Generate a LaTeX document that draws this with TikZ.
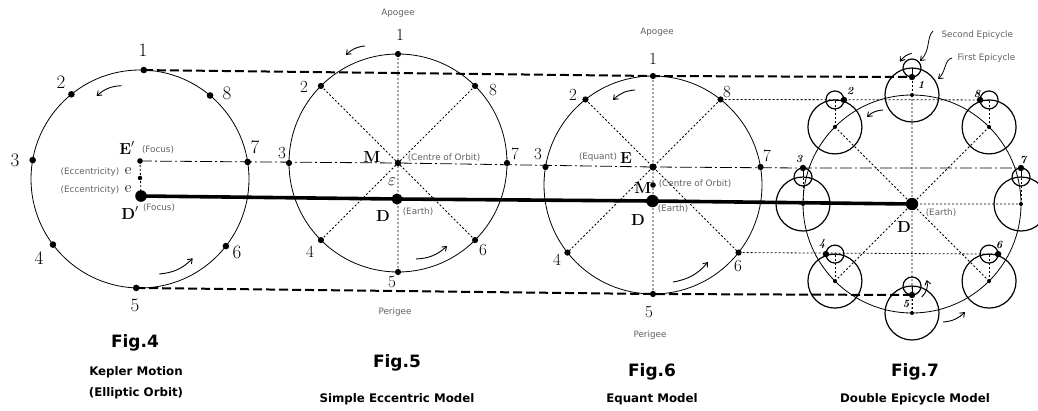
\documentclass[tikz,border=0pt]{standalone}
\usepackage{fontspec}
\newfontfamily\capfont{DejaVu Sans}
\usetikzlibrary{arrows.meta}

\begin{document}
\begin{tikzpicture}[x=1pt, y=1pt,
    orbit/.style={line width=0.8pt},
    epi/.style={line width=1.2pt},
    guide/.style={line width=2pt, dash pattern=on 9pt off 4pt},
    axisline/.style={line width=3.6pt},
    dashdotline/.style={line width=0.8pt, dash pattern=on 12pt off 3pt on 2pt off 3pt},
    ray/.style={line width=0.8pt, dash pattern=on 2pt off 2pt},
    num/.style={font=\fontsize{17}{17}\selectfont},
    bignum/.style={font=\fontsize{19}{19}\selectfont},
    smallnum/.style={font=\fontsize{11}{11}\selectfont\bfseries\itshape},
    letter/.style={font=\fontsize{16}{16}\selectfont\bfseries},
    note/.style={font=\capfont\fontsize{8.8}{8.8}\selectfont, text=black!62},
    figno/.style={font=\capfont\bfseries\fontsize{17}{17}\selectfont},
    subcap/.style={font=\capfont\bfseries\fontsize{11.8}{11.8}\selectfont},
    motion/.style={-{Straight Barb[length=4pt,width=6pt]}, line width=0.9pt},
]
\useasboundingbox (0,0) rectangle (1038,-410);
\clip (0,0) rectangle (1038,-410);

% Fig.4 points (Kepler)
\coordinate (C4) at (140,-179);
\foreach \k/\a in {1/88,2/129,3/170,4/217,5/268,6/322,7/9,8/50}
    \coordinate (f4p\k) at ([shift={(\a:109)}]C4);
\coordinate (f4E) at (140,-161);
\coordinate (f4e) at (140,-178);
\coordinate (f4D) at (141,-196);

% Fig.5 points (simple eccentric)
\coordinate (M5) at (398,-163);
\coordinate (D5) at (397,-199);
\foreach \k in {1,...,8}
    \coordinate (f5p\k) at ([shift={({45*\k+45}:109)}]M5);

% Fig.6 points (equant), rays drawn from E
\coordinate (M6) at (653,-185);
\coordinate (E6) at (653,-167);
\coordinate (D6) at (652.5,-201);
\foreach \k/\a/\s in {1/90/91,2/135/95.5,3/180/107.5,4/225/121,5/270/127,6/315/121,7/0/107.5,8/45/95.5}
    \coordinate (f6p\k) at ([shift={(\a:\s)}]E6);

% Fig.7 points (double epicycle)
\coordinate (D7) at (912,-204);
\foreach \k in {1,...,8} {
    \coordinate (f7c\k) at ([shift={({45*\k+45}:109)}]D7);
    \coordinate (f7s\k) at ([shift={(0,27)}]f7c\k);
    \coordinate (f7q\k) at ([shift={({90*\k+180}:9)}]f7s\k);
}

% Orbits
\draw[orbit] (C4) circle (109);
\draw[orbit] (M5) circle (109);
\draw[orbit] (M6) circle (109);
\draw[orbit] (D7) circle (109);

% Epicycles
\foreach \k in {1,...,8} {
    \draw[epi] (f7c\k) circle (27);
    \draw[epi] (f7s\k) circle (9);
    \draw[ray] (f7c\k) -- (f7s\k);
    \draw[orbit] (f7s\k) -- (f7q\k);
}

% Dotted rays
\draw[ray] (f4E) -- (f4D);
\draw[ray] (f5p1) -- (f5p5) (f5p2) -- (f5p6) (f5p8) -- (f5p4);
\draw[ray] (f6p1) -- (f6p5) (f6p2) -- (f6p6) (f6p8) -- (f6p4);
\draw[ray] (f7c1) -- (f7c5) (f7c2) -- (f7c6) (f7c8) -- (f7c4) (D7) -- (f7c7);
\draw[ray] (f6p8) -- (f7q8);
\draw[ray] (f6p6) -- (f7q6);

% Connecting lines
\draw[guide] (f4p1) -- (f6p1) -- (f7q1);
\draw[guide] (f4p5) -- (f6p5) -- (f7q5);
\draw[dashdotline] (f4E) -- (M5) -- (E6) -- (f7q3) -- (f7q7);
\draw[axisline] (f4D) -- (D5) -- (D6) -- (D7);

% Dots
\foreach \k in {1,...,8} {
    \fill (f4p\k) circle (3.3);
    \fill (f5p\k) circle (3.1);
    \fill (f6p\k) circle (3.1);
    \fill (f7q\k) circle (3.2);
    \fill (f7c\k) circle (2);
}
\fill (f4E) circle (2.8);
\fill (f4e) circle (2.2);
\fill (f4D) circle (5.8);
\fill (M5) circle (3.2);
\fill (D5) circle (5.5);
\fill (E6) circle (3.6);
\fill (M6) circle (2.8);
\fill (D6) circle (6.2);
\fill (D7) circle (6.2);

% Fig.4 labels
\node[bignum] (f4n1) at (143,-50) {1};
\node[bignum] (f4n2) at (61,-82) {2};
\node[bignum] (f4n3) at (15,-160) {3};
\node[bignum] (f4n4) at (39,-258) {4};
\node[bignum] (f4n5) at (135,-305) {5};
\node[bignum] (f4n6) at (237,-252) {6};
\node[bignum] (f4n7) at (255,-147) {7};
\node[bignum] (f4n8) at (227,-93) {8};
\node[letter] (f4lE) at (127,-148) {E$'$};
\node[letter] (f4lD) at (130,-213) {D$'$};
\node[note] (f4fa) at (158,-150) {(Focus)};
\node[note] (f4fb) at (159,-208) {(Focus)};
\node[note] (f4ea) at (90,-172) {(Eccentricity)};
\node[note] (f4eb) at (90,-190) {(Eccentricity)};
\node[font=\fontsize{16}{16}\selectfont] (f4la) at (128,-171) {e};
\node[font=\fontsize{16}{16}\selectfont] (f4lb) at (128,-189) {e};
\draw[motion] (121.7,-85.7) to[bend right=20] (96.7,-96);
\draw[motion] (159.3,-274) to[bend right=20] (192.7,-258.3);

% Fig.5 labels
\node[note] (f5ap) at (398,-13) {Apogee};
\node[note] (f5pe) at (395,-312) {Perigee};
\node[num] (f5n1) at (400,-35) {1};
\node[num] (f5n2) at (304,-87) {2};
\node[num] (f5n3) at (282,-153) {3};
\node[num] (f5n4) at (310,-252) {4};
\node[num] (f5n5) at (392,-282) {5};
\node[num] (f5n6) at (483,-250) {6};
\node[num] (f5n7) at (515,-154) {7};
\node[num] (f5n8) at (493,-90) {8};
\node[letter] (f5lM) at (372,-157) {M};
\node[font=\fontsize{17}{17}\selectfont] (f5eps) at (392,-182) {$\varepsilon$};
\node[letter] (f5lD) at (383,-216) {D};
\node[note] (f5co) at (444,-158) {(Centre of Orbit)};
\node[note] (f5ea) at (418,-212) {(Earth)};
\draw[motion] (365,-46) to[bend right=20] (346,-55);
\draw[motion] (416,-259) to[bend right=20] (447,-246);

% Fig.6 labels
\node[note] (f6ap) at (657,-32) {Apogee};
\node[note] (f6pe) at (650,-335) {Perigee};
\node[num] (f6n1) at (653,-59) {1};
\node[num] (f6n2) at (573,-95) {2};
\node[num] (f6n3) at (538,-154) {3};
\node[num] (f6n4) at (557,-260) {4};
\node[num] (f6n5) at (649,-312) {5};
\node[num] (f6n6) at (738,-266) {6};
\node[num] (f6n7) at (767,-156) {7};
\node[num] (f6n8) at (727,-92) {8};
\node[note] (f6eq) at (598,-157) {(Equant)};
\node[letter] (f6lE) at (626,-158) {E};
\node[letter] (f6lM) at (643,-188) {M};
\node[note] (f6co) at (695,-184) {(Centre of Orbit)};
\node[letter] (f6lD) at (638,-220) {D};
\node[note] (f6ea) at (673,-209) {(Earth)};
\draw[motion] (635,-90) to[bend right=20] (613,-100);
\draw[motion] (673,-282) to[bend right=20] (708,-262);

% Fig.7 labels
\node[smallnum] (f7n1) at (921,-85) {1};
\node[smallnum] (f7n2) at (850,-91) {2};
\node[smallnum] (f7n3) at (799,-159) {3};
\node[smallnum] (f7n4) at (822,-244) {4};
\node[smallnum] (f7n5) at (906,-304) {5};
\node[smallnum] (f7n6) at (999,-245) {6};
\node[smallnum] (f7n7) at (1023,-160) {7};
\node[smallnum] (f7n8) at (977,-94) {8};
\node[letter] (f7lD) at (904,-227) {D};
\node[note] (f7ea) at (941,-213) {(Earth)};
\node[note, anchor=west] (f7se) at (938,-35) {Second Epicycle};
\node[note, anchor=west] (f7fe) at (954,-58) {First Epicycle};
\draw[motion, line width=0.8pt] (933,-31) .. controls (926,-38) and (931,-50) .. (920,-61);
\draw[motion, line width=0.8pt] (952,-58) .. controls (944,-60) and (946,-72) .. (938,-79);
\draw[motion] (911.7,-53.3) to[bend right=20] (900,-61.7);
\draw[motion] (883,-110) to[bend right=20] (867,-117);
\draw[motion] (921.7,-297) to[bend right=30] (926.7,-280);
\draw[motion] (943,-322) to[bend right=20] (965,-312);

% Captions
\node[figno] (cap4) at (135,-343) {Fig.4};
\node[subcap] (sub4a) at (136,-372) {Kepler Motion};
\node[subcap] (sub4b) at (136,-393) {(Elliptic Orbit)};
\node[figno] (cap5) at (397,-363) {Fig.5};
\node[subcap] (sub5) at (397,-399) {Simple Eccentric Model};
\node[figno] (cap6) at (652,-372) {Fig.6};
\node[subcap] (sub6) at (652,-399) {Equant Model};
\node[figno] (cap7) at (915,-372) {Fig.7};
\node[subcap] (sub7) at (915,-399) {Double Epicycle Model};
\end{tikzpicture}
\end{document}
